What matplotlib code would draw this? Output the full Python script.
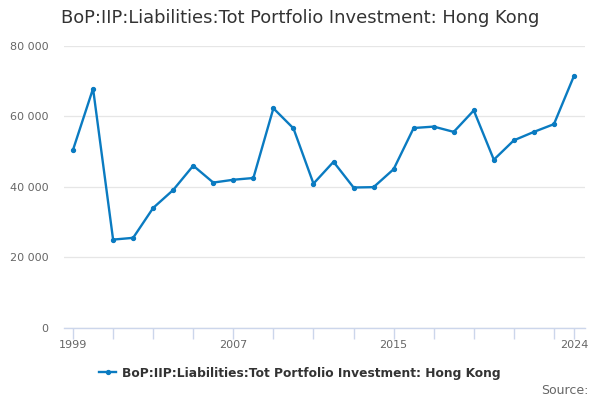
import matplotlib
matplotlib.use('Agg')
import matplotlib.pyplot as plt
from matplotlib.ticker import FuncFormatter

years = list(range(1999, 2025))
values = [50500, 67900, 25000, 25500, 34000, 39100, 46000, 41200, 42000, 42500,
          62300, 56600, 40900, 47100, 39800, 39900, 45000, 56700, 57100, 55600,
          61700, 47700, 53200, 55600, 57800, 71500]
series_name = "BoP:IIP:Liabilities:Tot Portfolio Investment: Hong Kong"
label_years = [1999, 2007, 2015, 2024]
tick_years = list(range(1999, 2024, 2)) + [2024]

plt.rcParams['font.family'] = 'DejaVu Sans'
fig = plt.figure(figsize=(6, 4), dpi=100)
ax = fig.add_axes([64/600, 1-327.6/400, (585-64)/600, (327.6-46)/400])

line_color = '#0a7bc1'
ax.plot(years, values, color=line_color, lw=1.7, marker='o', ms=2.8, label=series_name, zorder=3)

ax.set_xlim(1998.55, 2024.55)
ax.set_ylim(0, 80000)
ax.set_yticks([0, 20000, 40000, 60000, 80000])
ax.yaxis.set_major_formatter(FuncFormatter(lambda v, p: f"{int(v):,}".replace(",", " ")))
ax.set_xticks(tick_years)
ax.set_xticklabels([str(y) if y in label_years else "" for y in tick_years])

ax.grid(axis='y', color='#e6e6e6', lw=0.9)
ax.set_axisbelow(True)
for s in ['top', 'right', 'left']:
    ax.spines[s].set_visible(False)
ax.spines['bottom'].set_color('#ccd6eb')
ax.spines['bottom'].set_linewidth(1)
ax.tick_params(axis='x', colors='#ccd6eb', length=8, width=1, labelcolor='#666666', labelsize=8, pad=1)
ax.tick_params(axis='y', length=0, labelcolor='#666666', labelsize=8, pad=11)

fig.text(0.5, 1-18/400, series_name, ha='center', va='center', fontsize=12.9, color='#333333')

leg = fig.legend(loc='center', bbox_to_anchor=(0.5, 1-373/400), frameon=False,
                 prop={'weight': 'bold', 'size': 8.8}, handlelength=1.4, handletextpad=0.5)
for t in leg.get_texts():
    t.set_color('#333333')

fig.text(589/600, 1-390/400, "Source:", ha='right', va='center', fontsize=9, color='#666666')

fig.savefig('out.png', dpi=100)
